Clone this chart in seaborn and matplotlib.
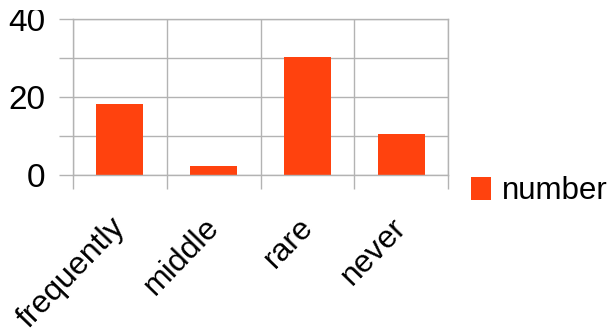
import matplotlib
matplotlib.use("Agg")
import matplotlib.pyplot as plt
import seaborn as sns
import pandas as pd
from matplotlib.ticker import FixedLocator
from matplotlib.transforms import Bbox, ScaledTranslation

categories = ["frequently", "middle", "rare", "never"]
values = [18.3, 2.3, 30.3, 10.4]
series_name = "number"
y_ticks = [0, 10, 20, 30, 40]
y_tick_labels = ["0", "", "20", "", "40"]

sns.set_theme(style="white")
plt.rcParams["font.family"] = ["Liberation Sans", "DejaVu Sans"]
plt.rcParams["text.color"] = "black"
plt.rcParams["xtick.color"] = "black"
plt.rcParams["ytick.color"] = "black"

df = pd.DataFrame({"category": categories, "value": values, "series": series_name})

fig = plt.figure(figsize=(6.12, 3.36), dpi=100)
ax = fig.add_axes([73/612, 1-175/336, (448-73)/612, (175-19)/336])

sns.barplot(data=df, x="category", y="value", hue="series", palette=["#ff420e"],
            width=0.5, ax=ax, saturation=1, edgecolor="none")

grid_c = "#b3b3b3"
ax.set_xlim(-0.5, len(categories)-0.5)
ax.set_ylim(0, 40)
ax.set_yticks(y_ticks)
ax.set_yticklabels(y_tick_labels)
ax.yaxis.grid(True, color=grid_c, linewidth=1)
ax.xaxis.set_minor_locator(FixedLocator([i-0.5 for i in range(len(categories)+1)]))
ax.xaxis.grid(True, which="minor", color=grid_c, linewidth=1)
ax.set_axisbelow(True)
ax.tick_params(axis="y", which="major", length=10, width=1, color=grid_c, pad=10,
               labelsize=24, left=True, direction="out", labelcolor="black")
ax.tick_params(axis="x", which="minor", length=10, width=1, color=grid_c, bottom=True, direction="out")
ax.tick_params(axis="x", which="major", length=0, pad=27, labelsize=23, labelcolor="black")
shift = ScaledTranslation(-10/100, 0, fig.dpi_scale_trans)
for lab in ax.get_xticklabels():
    lab.set_rotation(46)
    lab.set_ha("right")
    lab.set_va("top")
    lab.set_rotation_mode("anchor")
    lab.set_transform(lab.get_transform() + shift)
clip = Bbox([[0, 0], [612, 336 - 10]])
for lab in ax.get_yticklabels():
    lab.set_clip_box(clip)
    lab.set_clip_on(True)
for s in ax.spines.values():
    s.set_color(grid_c)
    s.set_linewidth(1)
ax.set_xlabel("")
ax.set_ylabel("")

sns.move_legend(ax, loc="center left", bbox_to_anchor=(471/612, 1-191/336),
                bbox_transform=fig.transFigure, frameon=False, title=None,
                fontsize=22.5, borderpad=0, borderaxespad=0, handlelength=0.64,
                handleheight=0.75, handletextpad=0.35)
for t in ax.get_legend().get_texts():
    t.set_color("black")

fig.savefig("out.png", dpi=100)
